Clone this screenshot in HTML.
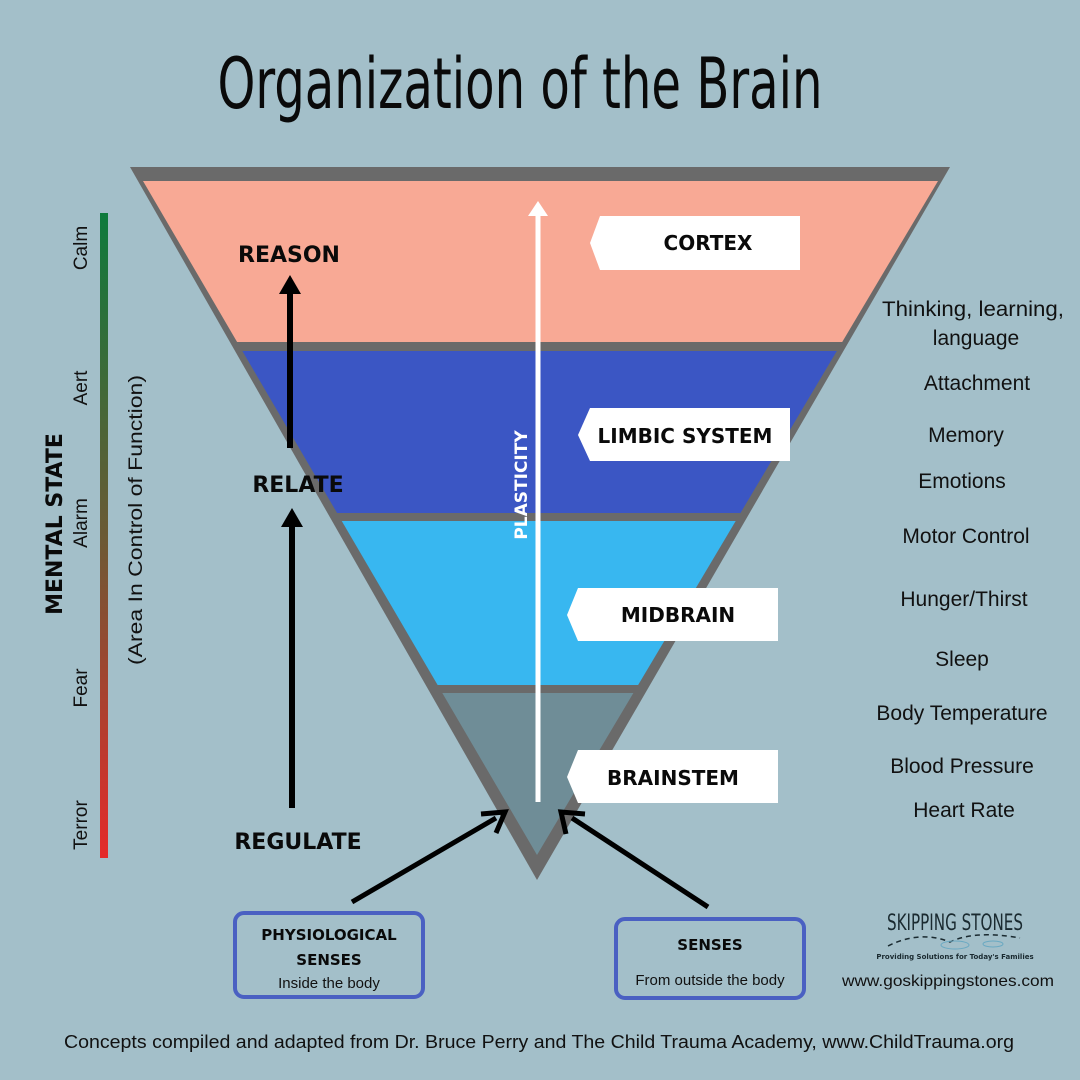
<!DOCTYPE html>
<html><head><meta charset="utf-8"><style>
html,body{margin:0;padding:0;background:#a3bfc9;}
svg{display:block}
.b{font-family:"DejaVu Sans","Liberation Sans",sans-serif;font-weight:bold;fill:#0a0a0a}
.r{font-family:"Liberation Sans",sans-serif;fill:#111}
</style></head><body>
<svg width="1080" height="1080" viewBox="0 0 1080 1080" xmlns="http://www.w3.org/2000/svg">
<defs>
<clipPath id="tri"><polygon points="143,181 938,181 537,855"/></clipPath>
<linearGradient id="g" x1="0" y1="0" x2="0" y2="1">
<stop offset="0" stop-color="#0e7a3c"/><stop offset="0.5" stop-color="#6b5a35"/><stop offset="1" stop-color="#e52a2a"/></linearGradient>
</defs>
<rect width="1080" height="1080" fill="#a3bfc9"/>
<text x="520" y="108" text-anchor="middle" font-family="'DejaVu Sans Condensed','Liberation Sans Narrow',sans-serif" font-size="70" fill="#0a0a0a" textLength="605" lengthAdjust="spacingAndGlyphs">Organization of the Brain</text>
<polygon points="130,167 950,167 537,880" fill="#6a6a6a"/>
<g clip-path="url(#tri)">
<rect x="0" y="181" width="1080" height="161" fill="#f8a995"/>
<rect x="0" y="351" width="1080" height="162" fill="#3b56c4"/>
<rect x="0" y="521" width="1080" height="164" fill="#38b7f0"/>
<rect x="0" y="693" width="1080" height="170" fill="#6f8d97"/>
</g>
<line x1="538" y1="802" x2="538" y2="212" stroke="#fff" stroke-width="5"/>
<polygon points="528,216 548,216 538,201" fill="#fff"/>
<text transform="translate(527,485) rotate(-90)" text-anchor="middle" class="b" font-size="17" style="fill:#fff">PLASTICITY</text>
<polygon points="600,216 800,216 800,270 600,270 590,243" fill="#fff"/>
<text x="708" y="250" text-anchor="middle" class="b" font-size="20">CORTEX</text>
<polygon points="590,408 790,408 790,461 590,461 578,435" fill="#fff"/>
<text x="685" y="443" text-anchor="middle" class="b" font-size="20">LIMBIC SYSTEM</text>
<polygon points="578,588 778,588 778,641 578,641 567,615" fill="#fff"/>
<text x="678" y="622" text-anchor="middle" class="b" font-size="20">MIDBRAIN</text>
<polygon points="578,750 778,750 778,803 578,803 567,777" fill="#fff"/>
<text x="673" y="785" text-anchor="middle" class="b" font-size="20">BRAINSTEM</text>
<text x="289" y="262" text-anchor="middle" class="b" font-size="22">REASON</text>
<line x1="290" y1="448" x2="290" y2="290" stroke="#000" stroke-width="6"/>
<polygon points="279,294 301,294 290,275" fill="#000"/>
<text x="298" y="492" text-anchor="middle" class="b" font-size="22">RELATE</text>
<line x1="292" y1="808" x2="292" y2="525" stroke="#000" stroke-width="6"/>
<polygon points="281,527 303,527 292,508" fill="#000"/>
<text x="298" y="849" text-anchor="middle" class="b" font-size="22">REGULATE</text>
<line x1="352" y1="902" x2="496" y2="818" stroke="#000" stroke-width="5"/>
<polyline points="481,814 505,812 496,833" fill="none" stroke="#000" stroke-width="5"/>
<line x1="708" y1="907" x2="572" y2="818" stroke="#000" stroke-width="5"/>
<polyline points="566,834 561,812 585,814" fill="none" stroke="#000" stroke-width="5"/>
<rect x="235" y="913" width="188" height="84" rx="9" fill="none" stroke="#4a60c2" stroke-width="4"/>
<text x="329" y="940" text-anchor="middle" class="b" font-size="15">PHYSIOLOGICAL</text>
<text x="329" y="965" text-anchor="middle" class="b" font-size="15">SENSES</text>
<text x="329" y="988" text-anchor="middle" class="r" font-size="15">Inside the body</text>
<rect x="616" y="919" width="188" height="79" rx="9" fill="none" stroke="#4a60c2" stroke-width="4"/>
<text x="710" y="950" text-anchor="middle" class="b" font-size="15">SENSES</text>
<text x="710" y="985" text-anchor="middle" class="r" font-size="15">From outside the body</text>
<rect x="100" y="213" width="8" height="645" fill="url(#g)"/>
<g class="r" font-size="19">
<text transform="translate(87,248) rotate(-90)" text-anchor="middle">Calm</text>
<text transform="translate(87,388) rotate(-90)" text-anchor="middle">Aert</text>
<text transform="translate(87,523) rotate(-90)" text-anchor="middle">Alarm</text>
<text transform="translate(87,688) rotate(-90)" text-anchor="middle">Fear</text>
<text transform="translate(87,825) rotate(-90)" text-anchor="middle">Terror</text>
<text transform="translate(142,520) rotate(-90)" text-anchor="middle" textLength="290" lengthAdjust="spacingAndGlyphs">(Area In  Control of Function)</text>
</g>
<text transform="translate(62,524) rotate(-90)" text-anchor="middle" class="b" font-size="22">MENTAL STATE</text>
<g class="r" font-size="21" text-anchor="middle">
<text x="973" y="316" textLength="182" lengthAdjust="spacingAndGlyphs">Thinking, learning,</text>
<text x="976" y="345">language</text>
<text x="977" y="390">Attachment</text>
<text x="966" y="442">Memory</text>
<text x="962" y="488">Emotions</text>
<text x="966" y="543">Motor Control</text>
<text x="964" y="606">Hunger/Thirst</text>
<text x="962" y="666">Sleep</text>
<text x="962" y="720">Body Temperature</text>
<text x="962" y="773">Blood Pressure</text>
<text x="964" y="817">Heart Rate</text>
</g>
<text x="955" y="930" text-anchor="middle" font-family="'DejaVu Sans Condensed',sans-serif" font-size="22" fill="#1a2a30" textLength="136" lengthAdjust="spacingAndGlyphs">SKIPPING STONES</text>
<path d="M888,946 Q920,930 950,942 Q975,930 1020,938" fill="none" stroke="#1a2a30" stroke-width="1.5" stroke-dasharray="5,4"/>
<ellipse cx="955" cy="945" rx="14" ry="4" fill="none" stroke="#6aa9c2" stroke-width="1"/>
<ellipse cx="993" cy="944" rx="10" ry="3" fill="none" stroke="#6aa9c2" stroke-width="1"/>
<text x="955" y="959" text-anchor="middle" class="b" font-size="7" style="fill:#1a2a30">Providing Solutions for Today's Families</text>
<text x="948" y="986" text-anchor="middle" class="r" font-size="16" textLength="212" lengthAdjust="spacingAndGlyphs">www.goskippingstones.com</text>
<text x="539" y="1048" text-anchor="middle" class="r" font-size="18" textLength="950" lengthAdjust="spacingAndGlyphs">Concepts compiled and adapted from Dr. Bruce Perry and The Child Trauma Academy, www.ChildTrauma.org</text>
</svg>
</body></html>
